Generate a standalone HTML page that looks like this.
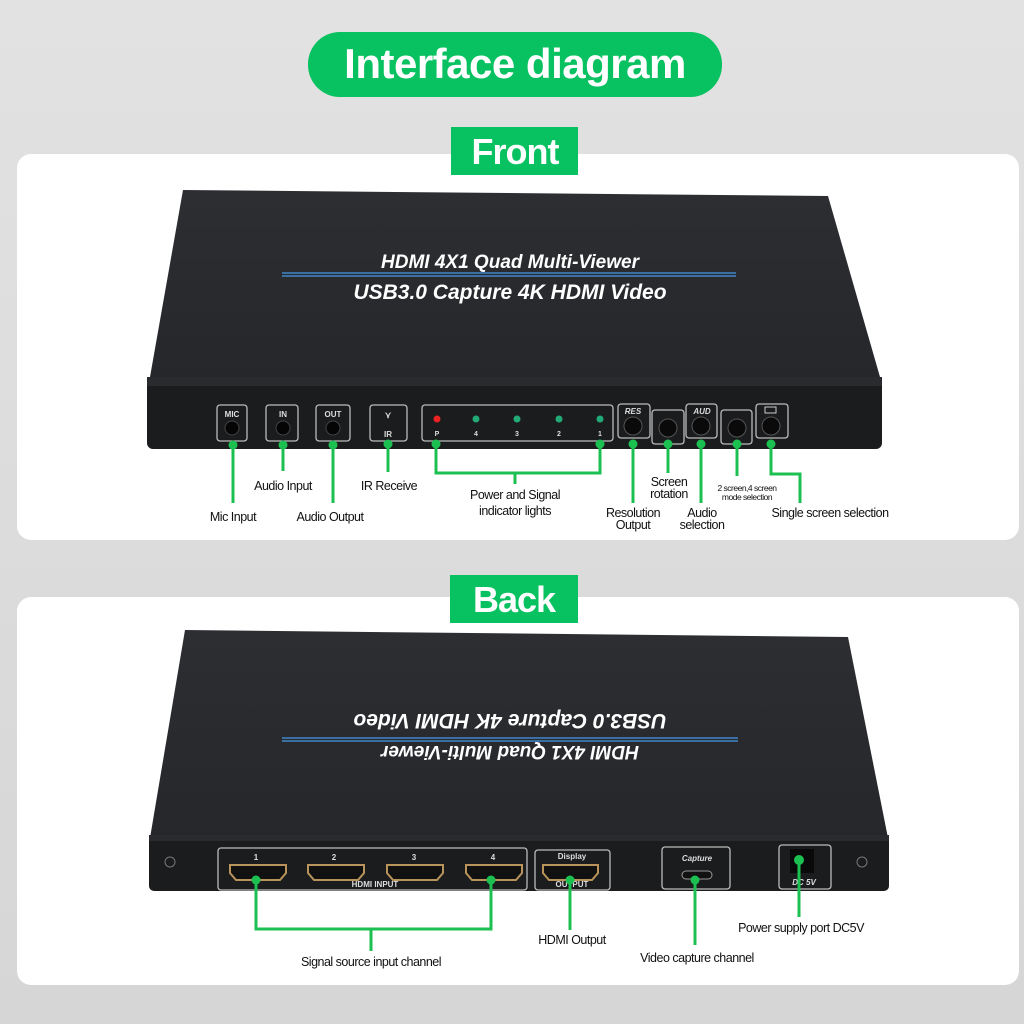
<!DOCTYPE html>
<html><head><meta charset="utf-8"><style>
html,body{margin:0;padding:0;width:1024px;height:1024px;overflow:hidden;background:#dcdcdc}
svg{display:block}
.lb{font-family:"Liberation Sans",sans-serif;font-size:12.5px;fill:#111;text-anchor:middle;letter-spacing:-0.5px}
.pt{font-family:"Liberation Sans",sans-serif;font-weight:bold;fill:#ddd;text-anchor:middle}
.g{stroke:#1cc050;stroke-width:3;fill:none}
.d{fill:#1cc050}
.bx{fill:none;stroke:#bbb;stroke-width:1.3}
</style></head><body>
<svg width="1024" height="1024" viewBox="0 0 1024 1024">
<defs>
<linearGradient id="bg" x1="0" y1="0" x2="0" y2="1"><stop offset="0" stop-color="#e2e2e2"/><stop offset="1" stop-color="#d6d6d6"/></linearGradient>
<linearGradient id="top" x1="0" y1="0" x2="0" y2="1"><stop offset="0" stop-color="#2c2e32"/><stop offset="1" stop-color="#25272a"/></linearGradient>
</defs>
<rect width="1024" height="1024" fill="url(#bg)"/>
<rect x="308" y="32" width="414" height="65" rx="32" fill="#08c160"/>
<text x="515" y="78" font-family="Liberation Sans,sans-serif" font-weight="bold" font-size="42" fill="#fff" text-anchor="middle" letter-spacing="-0.5">Interface diagram</text>
<rect x="17" y="154" width="1002" height="386" rx="14" fill="#fff"/>
<rect x="17" y="597" width="1002" height="388" rx="14" fill="#fff"/>
<rect x="451" y="127" width="127" height="48" fill="#08c160"/>
<text x="515" y="164" font-family="Liberation Sans,sans-serif" font-weight="bold" font-size="36" fill="#fff" text-anchor="middle" letter-spacing="-1">Front</text>
<rect x="450" y="575" width="128" height="48" fill="#08c160"/>
<text x="514" y="612" font-family="Liberation Sans,sans-serif" font-weight="bold" font-size="36" fill="#fff" text-anchor="middle" letter-spacing="-1">Back</text>

<polygon points="183,190 828,196 880,377 150,377" fill="url(#top)"/>
<rect x="147" y="377" width="735" height="72" rx="6" fill="#1b1c1e"/>
<rect x="147" y="377" width="735" height="9" fill="#2a2b2e"/>
<text x="510" y="268" font-family="Liberation Sans,sans-serif" font-weight="bold" font-style="italic" font-size="19" fill="#fff" text-anchor="middle">HDMI 4X1 Quad Multi-Viewer</text>
<line x1="282" y1="273" x2="736" y2="273" stroke="#3f86c8" stroke-width="1.6"/>
<line x1="282" y1="276" x2="736" y2="276" stroke="#3f86c8" stroke-width="1.6"/>
<text x="510" y="299" font-family="Liberation Sans,sans-serif" font-weight="bold" font-style="italic" font-size="21" fill="#fff" text-anchor="middle">USB3.0 Capture 4K HDMI Video</text>
<rect class="bx" x="217" y="405" width="30" height="36" rx="3"/><text class="pt" x="232" y="417" font-size="8">MIC</text><circle cx="232" cy="428" r="7" fill="#050505" stroke="#444"/>
<rect class="bx" x="266" y="405" width="32" height="36" rx="3"/><text class="pt" x="283" y="417" font-size="8">IN</text><circle cx="283" cy="428" r="7" fill="#050505" stroke="#444"/>
<rect class="bx" x="316" y="405" width="34" height="36" rx="3"/><text class="pt" x="333" y="417" font-size="8">OUT</text><circle cx="333" cy="428" r="7" fill="#050505" stroke="#444"/>
<rect class="bx" x="370" y="405" width="37" height="36" rx="3"/><text class="pt" x="388" y="418" font-size="9">⋎</text><text class="pt" x="388" y="437" font-size="8">IR</text>
<rect class="bx" x="422" y="405" width="191" height="36" rx="3"/>
<circle cx="437" cy="419" r="3.5" fill="#e22"/><text class="pt" x="437" y="436" font-size="7">P</text>
<circle cx="476" cy="419" r="3.5" fill="#2a7"/><text class="pt" x="476" y="436" font-size="7">4</text>
<circle cx="517" cy="419" r="3.5" fill="#2a7"/><text class="pt" x="517" y="436" font-size="7">3</text>
<circle cx="559" cy="419" r="3.5" fill="#2a7"/><text class="pt" x="559" y="436" font-size="7">2</text>
<circle cx="600" cy="419" r="3.5" fill="#2a7"/><text class="pt" x="600" y="436" font-size="7">1</text>
<rect class="bx" x="618" y="404" width="32" height="34" rx="3"/><text class="pt" x="633" y="414" font-size="8" font-style="italic">RES</text><circle cx="633" cy="426" r="9" fill="#0a0a0a" stroke="#555"/>
<rect class="bx" x="652" y="410" width="32" height="34" rx="3"/><circle cx="668" cy="428" r="9" fill="#0a0a0a" stroke="#555"/>
<rect class="bx" x="686" y="404" width="31" height="34" rx="3"/><text class="pt" x="702" y="414" font-size="8" font-style="italic">AUD</text><circle cx="701" cy="426" r="9" fill="#0a0a0a" stroke="#555"/>
<rect class="bx" x="721" y="410" width="31" height="34" rx="3"/><circle cx="737" cy="428" r="9" fill="#0a0a0a" stroke="#555"/>
<rect class="bx" x="756" y="404" width="32" height="34" rx="3"/><rect x="765" y="407" width="11" height="6" fill="none" stroke="#ccc"/><circle cx="771" cy="426" r="9" fill="#0a0a0a" stroke="#555"/>
<path class="g" d="M233,445V503"/><circle class="d" cx="233" cy="445" r="4.5"/>
<path class="g" d="M283,445V471"/><circle class="d" cx="283" cy="445" r="4.5"/>
<path class="g" d="M333,445V503"/><circle class="d" cx="333" cy="445" r="4.5"/>
<path class="g" d="M388,444V472"/><circle class="d" cx="388" cy="444" r="4.5"/>
<path class="g" d="M436,444V473H600V444M515,473V484"/><circle class="d" cx="436" cy="444" r="4.5"/><circle class="d" cx="600" cy="444" r="4.5"/>
<path class="g" d="M633,444V503"/><circle class="d" cx="633" cy="444" r="4.5"/>
<path class="g" d="M668,444V473"/><circle class="d" cx="668" cy="444" r="4.5"/>
<path class="g" d="M701,444V503"/><circle class="d" cx="701" cy="444" r="4.5"/>
<path class="g" d="M737,444V476"/><circle class="d" cx="737" cy="444" r="4.5"/>
<path class="g" d="M771,444V474H800V503"/><circle class="d" cx="771" cy="444" r="4.5"/>
<text class="lb" x="233" y="521">Mic Input</text>
<text class="lb" x="283" y="490">Audio Input</text>
<text class="lb" x="330" y="521">Audio Output</text>
<text class="lb" x="389" y="490">IR Receive</text>
<text class="lb" x="515" y="499">Power and Signal</text>
<text class="lb" x="515" y="515">indicator lights</text>
<text class="lb" x="633" y="517">Resolution</text>
<text class="lb" x="633" y="529">Output</text>
<text class="lb" x="669" y="486">Screen</text>
<text class="lb" x="669" y="498">rotation</text>
<text class="lb" x="702" y="517">Audio</text>
<text class="lb" x="702" y="529">selection</text>
<text class="lb" x="747" y="491" style="font-size:8.5px">2 screen,4 screen</text>
<text class="lb" x="747" y="500" style="font-size:8.5px">mode selection</text>
<text class="lb" x="830" y="517">Single screen selection</text>

<polygon points="185,630 848,637 888,838 150,838" fill="url(#top)"/>
<rect x="149" y="835" width="740" height="56" rx="5" fill="#1b1c1e"/>
<rect x="149" y="835" width="740" height="6" fill="#2a2b2e"/>
<g transform="rotate(180 510 740)">
<text x="510" y="734" font-family="Liberation Sans,sans-serif" font-weight="bold" font-style="italic" font-size="19" fill="#fff" text-anchor="middle">HDMI 4X1 Quad Multi-Viewer</text>
<line x1="282" y1="739" x2="738" y2="739" stroke="#3f86c8" stroke-width="1.6"/>
<line x1="282" y1="742" x2="738" y2="742" stroke="#3f86c8" stroke-width="1.6"/>
<text x="510" y="766" font-family="Liberation Sans,sans-serif" font-weight="bold" font-style="italic" font-size="21" fill="#fff" text-anchor="middle">USB3.0 Capture 4K HDMI Video</text>
</g>
<circle cx="170" cy="862" r="5" fill="none" stroke="#777"/><circle cx="862" cy="862" r="5" fill="none" stroke="#777"/>
<rect class="bx" x="218" y="848" width="309" height="42" rx="3"/>
<text class="pt" x="256" y="860" font-size="8">1</text><text class="pt" x="334" y="860" font-size="8">2</text><text class="pt" x="414" y="860" font-size="8">3</text><text class="pt" x="493" y="860" font-size="8">4</text>
<g fill="#111" stroke="#b8935a" stroke-width="2">
<path d="M230,865H286V873L280,880H236L230,873Z"/>
<path d="M308,865H364V873L358,880H314L308,873Z"/>
<path d="M387,865H443V873L437,880H393L387,873Z"/>
<path d="M466,865H522V873L516,880H472L466,873Z"/>
<path d="M543,865H598V873L592,880H549L543,873Z"/>
</g>
<text class="pt" x="375" y="887" font-size="8">HDMI INPUT</text>
<rect class="bx" x="535" y="850" width="75" height="40" rx="3"/>
<text class="pt" x="572" y="859" font-size="8">Display</text><text class="pt" x="572" y="887" font-size="8">OUTPUT</text>
<rect class="bx" x="662" y="847" width="68" height="42" rx="3"/>
<text class="pt" x="697" y="861" font-size="8" font-style="italic">Capture</text>
<rect x="682" y="871" width="30" height="8" rx="4" fill="#111" stroke="#999"/>
<rect class="bx" x="779" y="845" width="52" height="44" rx="3"/>
<rect x="790" y="849" width="24" height="24" fill="#0a0a0a"/>
<text class="pt" x="804" y="885" font-size="8" font-style="italic">DC 5V</text>
<path class="g" d="M256,880V929H491V880M371,929V951"/><circle class="d" cx="256" cy="880" r="4.5"/><circle class="d" cx="491" cy="880" r="4.5"/>
<path class="g" d="M570,880V930"/><circle class="d" cx="570" cy="880" r="4.5"/>
<path class="g" d="M695,880V945"/><circle class="d" cx="695" cy="880" r="4.5"/>
<path class="g" d="M799,860V917"/><circle class="d" cx="799" cy="860" r="5"/>
<text class="lb" x="371" y="966">Signal source input channel</text>
<text class="lb" x="572" y="944">HDMI Output</text>
<text class="lb" x="697" y="962">Video capture channel</text>
<text class="lb" x="801" y="932">Power supply port DC5V</text>
</svg>
</body></html>
